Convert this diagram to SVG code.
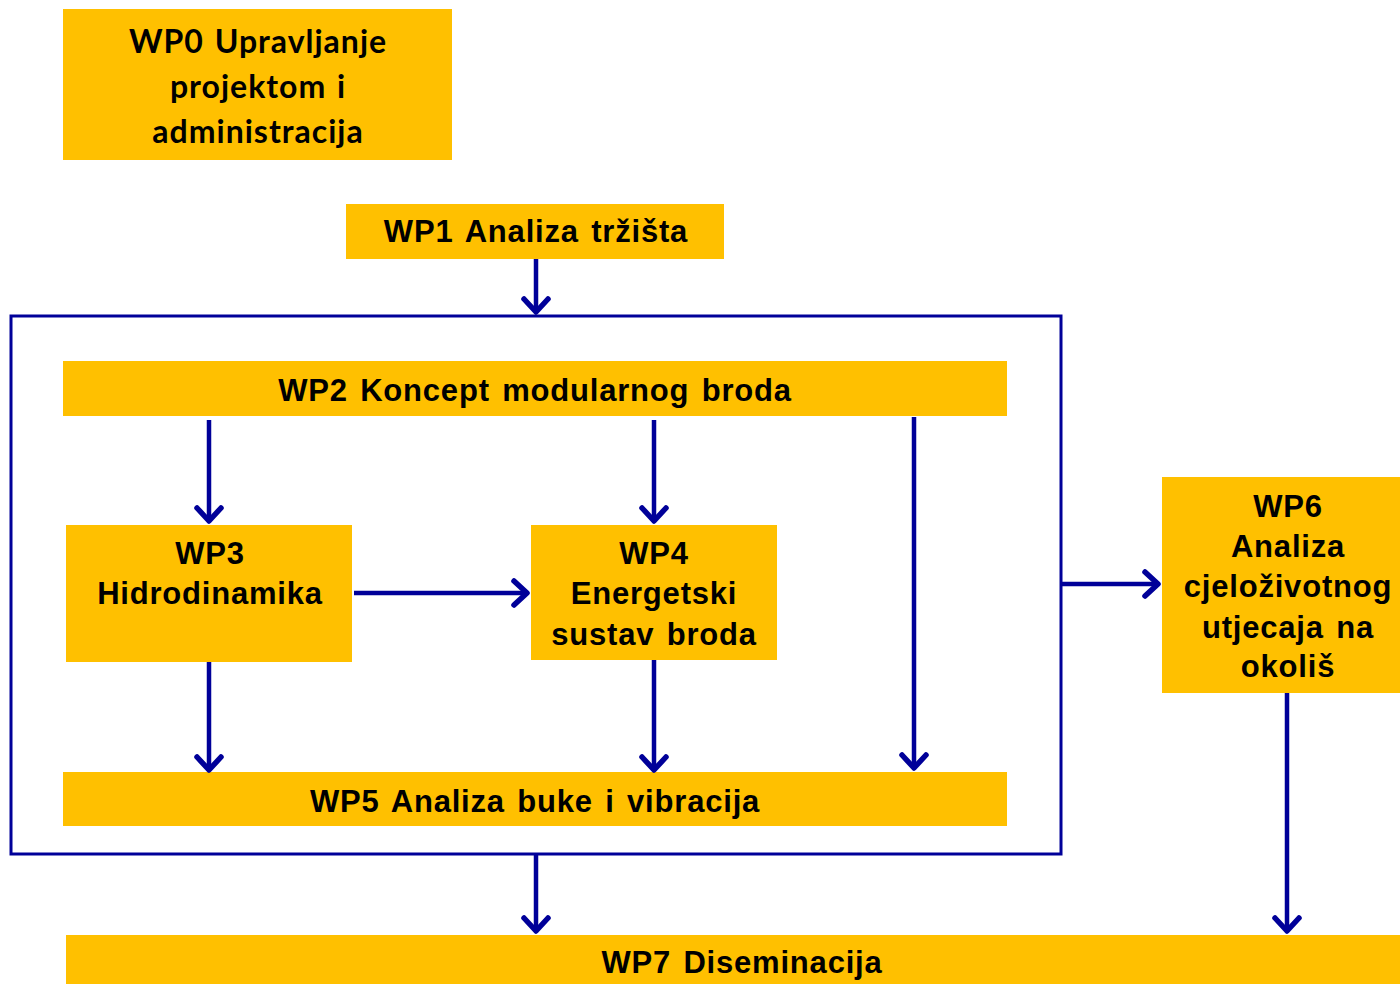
<svg xmlns="http://www.w3.org/2000/svg" width="1400" height="984" viewBox="0 0 1400 984">
<style>
.box{fill:#FFC000;}
.t{font-family:"Liberation Sans",Arial,sans-serif;font-weight:bold;font-size:31px;letter-spacing:0.8px;word-spacing:3px;fill:#000;text-anchor:middle;dominant-baseline:central;}
.t0{font-family:Lato,"Liberation Sans",sans-serif;font-weight:bold;font-size:32px;letter-spacing:1px;word-spacing:2px;fill:#000;text-anchor:middle;dominant-baseline:central;}
.c{stroke:#000099;stroke-width:4.5;fill:none;}
</style>
<defs>
<marker id="ah" markerUnits="userSpaceOnUse" markerWidth="40" markerHeight="40" viewBox="-20 -20 40 40" refX="0" refY="0" orient="auto">
<path d="M-13,-12 L0,0 L-13,12" fill="none" stroke="#000099" stroke-width="5.5" stroke-linecap="round" stroke-linejoin="round"/>
</marker>
</defs>
<rect width="1400" height="984" fill="#fff"/>
<g id="container"><rect x="11" y="316" width="1050" height="538" fill="none" stroke="#000099" stroke-width="3"/></g>
<g id="wp0"><rect class="box" x="63" y="9" width="389" height="151"/>
<text class="t0" x="258" y="40">WP0 Upravljanje</text><text class="t0" x="258" y="85">projektom i</text><text class="t0" x="258" y="130">administracija</text></g>
<g id="wp1"><rect class="box" x="346" y="204" width="378" height="55"/><text class="t" x="536" y="231">WP1 Analiza tržišta</text></g>
<g id="wp2"><rect class="box" x="63" y="361" width="944" height="55"/><text class="t" x="535" y="390">WP2 Koncept modularnog broda</text></g>
<g id="wp3"><rect class="box" x="66" y="525" width="286" height="137"/><text class="t" x="210" y="553">WP3</text><text class="t" x="210" y="593">Hidrodinamika</text></g>
<g id="wp4"><rect class="box" x="531" y="525" width="246" height="135"/><text class="t" x="654" y="553">WP4</text><text class="t" x="654" y="593">Energetski</text><text class="t" x="654" y="634">sustav broda</text></g>
<g id="wp5"><rect class="box" x="63" y="772" width="944" height="54"/><text class="t" x="535" y="801">WP5 Analiza buke i vibracija</text></g>
<g id="wp6"><rect class="box" x="1162" y="477" width="238" height="216"/><text class="t" x="1288" y="506">WP6</text><text class="t" x="1288" y="546">Analiza</text><text class="t" x="1288" y="586">cjeloživotnog</text><text class="t" x="1288" y="627">utjecaja na</text><text class="t" x="1288" y="666">okoliš</text></g>
<g id="wp7"><rect class="box" x="66" y="935" width="1334" height="49"/><text class="t" x="742" y="962">WP7 Diseminacija</text></g>
<g id="connectors">
<line class="c" x1="536" y1="259" x2="536" y2="312" marker-end="url(#ah)"/>
<line class="c" x1="209" y1="420" x2="209" y2="521" marker-end="url(#ah)"/>
<line class="c" x1="654" y1="420" x2="654" y2="521" marker-end="url(#ah)"/>
<line class="c" x1="914" y1="417" x2="914" y2="768" marker-end="url(#ah)"/>
<line class="c" x1="354" y1="593" x2="527" y2="593" marker-end="url(#ah)"/>
<line class="c" x1="209" y1="662" x2="209" y2="770" marker-end="url(#ah)"/>
<line class="c" x1="654" y1="660" x2="654" y2="770" marker-end="url(#ah)"/>
<line class="c" x1="1062" y1="584" x2="1158" y2="584" marker-end="url(#ah)"/>
<line class="c" x1="536" y1="855" x2="536" y2="931" marker-end="url(#ah)"/>
<line class="c" x1="1287" y1="693" x2="1287" y2="931" marker-end="url(#ah)"/>
</g>
</svg>
